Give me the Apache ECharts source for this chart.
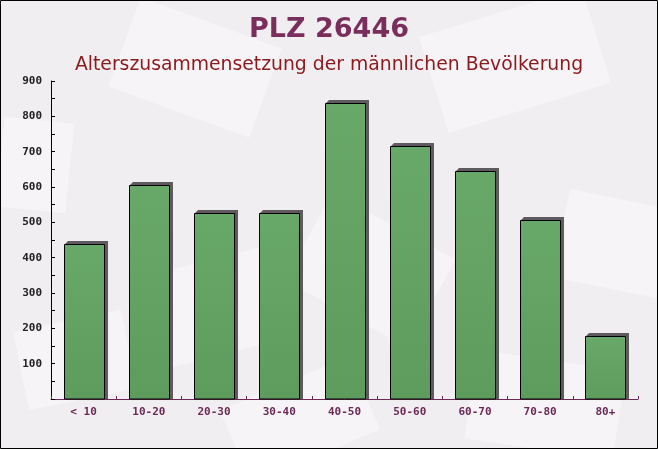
<!DOCTYPE html>
<html>
<head>
<meta charset="utf-8">
<script src="https://cdn.jsdelivr.net/npm/echarts@6/dist/echarts.min.js"></script>
<style>
html,body{margin:0;padding:0;background:#fff;}
#c{width:658px;height:449px;}
</style>
</head>
<body>
<div id="c"></div>
<script>
const categories = ['< 10', '10-20', '20-30', '30-40', '40-50', '50-60', '60-70', '70-80', '80+'];
const values = [439, 606, 527, 527, 837, 716, 645, 507, 179];
const yTicks = [0, 100, 200, 300, 400, 500, 600, 700, 800, 900];

const chart = echarts.init(document.getElementById('c'), null, {renderer: 'canvas'});

const bgShapes = [
  {x: 120, y: 20, w: 150, h: 95, r: -0.35},
  {x: 430, y: 10, w: 170, h: 100, r: 0.3},
  {x: 560, y: 200, w: 120, h: 90, r: -0.2},
  {x: 150, y: 260, w: 130, h: 95, r: 0.25},
  {x: 300, y: 220, w: 140, h: 100, r: -0.5},
  {x: 20, y: 320, w: 110, h: 80, r: 0.2},
  {x: 470, y: 360, w: 150, h: 90, r: -0.15},
  {x: 230, y: 380, w: 140, h: 80, r: 0.4},
  {x: 0, y: 120, w: 70, h: 90, r: -0.1}
];

const graphics = [
  {type: 'rect', z: -10, silent: true, shape: {x: 0, y: 0, width: 658, height: 449}, style: {fill: '#f1eef1'}}
];
bgShapes.forEach(s => {
  graphics.push({
    type: 'rect', z: -9, silent: true,
    x: s.x + s.w / 2, y: s.y + s.h / 2, rotation: s.r,
    shape: {x: -s.w / 2, y: -s.h / 2, width: s.w, height: s.h},
    style: {fill: 'rgba(255,255,255,0.35)'}
  });
});
graphics.push({type: 'rect', z: 100, silent: true, shape: {x: 0.5, y: 0.5, width: 657, height: 448}, style: {fill: 'none', stroke: '#000', lineWidth: 1}});

const option = {
  animation: false,
  backgroundColor: 'transparent',
  graphic: graphics,
  title: [
    {text: 'PLZ 26446', left: 'center', top: 11,
     textStyle: {fontFamily: 'DejaVu Sans', fontWeight: 'bold', fontSize: 27, color: '#7a2e5c'}},
    {text: 'Alterszusammensetzung der männlichen Bevölkerung', left: 'center', top: 51,
     textStyle: {fontFamily: 'DejaVu Sans', fontWeight: 'normal', fontSize: 18.8, color: '#8b1a1f'}}
  ],
  grid: {left: 51, right: 20, top: 81, bottom: 50, containLabel: false},
  xAxis: {
    type: 'category',
    data: categories,
    axisLine: {lineStyle: {color: '#6b2a55', width: 1}},
    axisTick: {show: true, inside: true, length: 3, lineStyle: {color: '#6b2a55'}},
    axisLabel: {fontFamily: 'DejaVu Sans Mono', fontWeight: 'bold', fontSize: 11, color: '#6b2a55', margin: 8},
    splitLine: {show: false}
  },
  yAxis: {
    type: 'value',
    min: 0, max: 900, interval: 100,
    axisLine: {show: true, lineStyle: {color: '#000', width: 1}},
    axisTick: {show: true, inside: true, length: 4, lineStyle: {color: '#000'}},
    minorTick: {show: true, splitNumber: 2, length: 4, lineStyle: {color: '#000'}},
    axisLabel: {
      fontFamily: 'DejaVu Sans Mono', fontWeight: 'bold', fontSize: 11, color: '#222', margin: 9,
      formatter: v => (v === 0 ? '' : (yTicks.indexOf(v) >= 0 ? String(v) : ''))
    },
    splitLine: {show: false},
    minorSplitLine: {show: false}
  },
  series: [{
    type: 'custom',
    data: values.map((v, i) => [i, v]),
    encode: {x: 0, y: 1},
    renderItem: function (params, api) {
      const xi = api.value(0), v = api.value(1);
      const top = api.coord([xi, v]);
      const base = api.coord([xi, 0]);
      const band = api.size([1, 0])[0];
      const w = band * 0.61;
      const l = Math.round(top[0] - w / 2) + 0.5;
      const r = l + Math.round(w);
      const t = Math.round(top[1]) + 0.5;
      const b = base[1];
      const d = 3.5;
      return {
        type: 'group',
        children: [
          {type: 'polygon', shape: {points: [[l, t], [l + d, t - d], [r + d, t - d], [r + d, b], [r, b], [r, t]]},
           style: {fill: '#5e5a5e'}},
          {type: 'rect', shape: {x: l, y: t, width: r - l, height: b - t},
           style: {fill: new echarts.graphic.LinearGradient(0, 0, 0, 1, [{offset: 0, color: '#68a868'}, {offset: 1, color: '#5e9c5e'}]),
                   stroke: '#000', lineWidth: 1}}
        ]
      };
    }
  }]
};
chart.setOption(option);
</script>
</body>
</html>
